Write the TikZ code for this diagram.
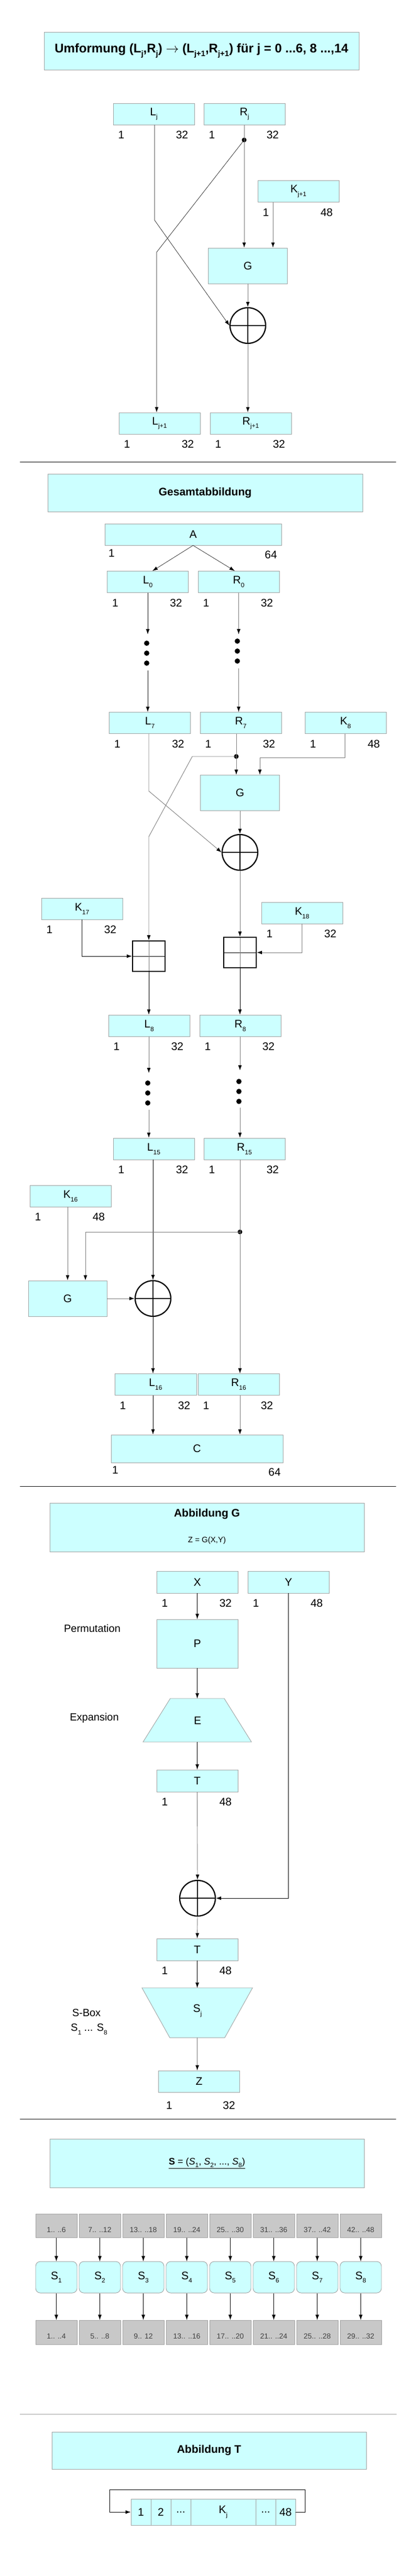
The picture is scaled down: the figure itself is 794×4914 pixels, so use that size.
\documentclass[tikz,border=0pt]{standalone}
\usepackage{fontspec}
\setmainfont{Liberation Sans}
\usetikzlibrary{arrows.meta,positioning,calc}
\definecolor{boxcyan}{HTML}{CCFFFF}
\definecolor{edgegray}{HTML}{A0A0A0}
\definecolor{linegray}{HTML}{7A7A7A}
\definecolor{graybox}{HTML}{C8C8C8}
\newcommand\fs[1]{\fontsize{#1}{#1}\selectfont}
\newcommand\sub[1]{\raisebox{-0.6ex}{\fs{12}#1}}
\newcommand\tsub[1]{\raisebox{-0.6ex}{\fs{15}#1}}
\newcommand\bits[3]{%
  \node[num] (#1a) at ([shift={(16,19)}]#1.south west) {#2};
  \node[num] (#1b) at ([shift={(-24,19)}]#1.south east) {#3};}
\newcommand\vdotsat[2]{%
  \fill (#1,#2) circle (5pt) (#1,#2+19) circle (5pt) (#1,#2+38) circle (5pt);}

\begin{document}
\begin{tikzpicture}[
        x=1pt, y=-1pt,
        > = Latex, % arrow head style
        reg/.style={rectangle, fill=boxcyan, draw=edgegray, line width=0.9pt,
          minimum width=155pt, minimum height=41pt, inner sep=0pt, font=\fs{21}},
        headbox/.style={reg, minimum width=601pt, minimum height=72pt, font=\bfseries\fs{21}},
        num/.style={font=\fs{21}, inner sep=0pt},
        side/.style={font=\fs{20}, inner sep=0pt},
        arr/.style={-{Latex[length=10pt,width=7pt,color=black]}, draw=linegray, line width=0.9pt},
        blk/.style={-{Latex[length=10pt,width=7pt]}, draw=black, line width=0.6pt},
        sep/.style={draw=black, line width=0.8pt},
        xor/.style={circle, draw, line width=2.3pt, minimum size=68pt, inner sep=0pt,
          path picture={\draw[line width=2.3pt]
            (path picture bounding box.north) -- (path picture bounding box.south)
            (path picture bounding box.west) -- (path picture bounding box.east);}},
        addbox/.style={rectangle, draw, line width=2.2pt, minimum width=62pt, minimum height=58pt,
          path picture={\draw[line width=0.6pt]
            (path picture bounding box.west) -- (path picture bounding box.east);
            \draw[linegray, line width=0.9pt]
            (path picture bounding box.north) -- (path picture bounding box.south);}},
        graycell/.style={rectangle, fill=graybox, draw=edgegray, line width=0.9pt,
          minimum width=79pt, minimum height=45pt, inner sep=0pt},
        glabel/.style={font=\fs{14}, text=black!75, yshift=-8pt},
        sbox/.style={reg, rounded corners=9pt, minimum width=79pt, minimum height=60pt},
        cell/.style={reg, minimum height=50pt, minimum width=38pt}
    ]
    \useasboundingbox (0,0) rectangle (794,4914);

    % ---------- Umformung ----------
    \node[headbox, font=\bfseries\fs{24}] (title1) at (384.5,97) {Umformung (L\tsub{j},R\tsub{j}) $\rightarrow$ (L\tsub{j+1},R\tsub{j+1}) für j = 0 ...6, 8 ...,14};
    \node[reg] (lj) at (293.5,217.5) {L\sub{j}};
    \node[reg] (rj) at (466.5,217.5) {R\sub{j}};
    \node[reg] (kj) at (569.5,365) {K\sub{j+1}};
    \node[reg, minimum width=151pt, minimum height=68pt] (g1) at (473,507) {G};
    \node[xor] (xor1) at (473,621) {};
    \node[reg] (lj1) at (304.5,807.5) {L\sub{j+1}};
    \node[reg] (rj1) at (478.5,807.5) {R\sub{j+1}};
    \bits{lj}{1}{32} \bits{rj}{1}{32} \bits{kj}{1}{48}
    \bits{lj1}{1}{32} \bits{rj1}{1}{32}
    \coordinate (d1) at (466,267);
    \fill (d1) circle (4.5pt);
    \draw[blk] (lj.south -| 295,0) -- (295,420) -- (xor1.west);
    \draw[arr] (rj.south -| d1) -- (d1 |- g1.north);
    \draw[blk] (d1) -- (299,481) -- (299,0 |- lj1.north);
    \draw[arr] (kj.south -| 521,0) -- (521,0 |- g1.north);
    \draw[arr] (g1.south) -- (xor1.north);
    \draw[arr] (xor1.south) -- (xor1.south |- rj1.north);
    \draw[sep] (38,881) -- (756,881);

    % ---------- Gesamtabbildung ----------
    \node[headbox] (title2) at (391.5,940) {Gesamtabbildung};
    \node[reg, minimum width=337pt] (a) at (368.5,1019.5) {A};
    \node[reg] (l0) at (282,1110) {L\sub{0}};
    \node[reg] (r0) at (455.5,1110) {R\sub{0}};
    \node[reg] (l7) at (286,1379) {L\sub{7}};
    \node[reg] (r7) at (459.5,1379) {R\sub{7}};
    \node[reg] (k8) at (659.5,1379) {K\sub{8}};
    \node[reg, minimum width=151pt, minimum height=68pt] (g2) at (458,1512.5) {G};
    \node[xor] (xor2) at (458,1626) {};
    \node[reg] (k17) at (156.5,1733.5) {K\sub{17}};
    \node[reg] (k18) at (576.5,1741.5) {K\sub{18}};
    \node[addbox] (add1) at (284,1824) {};
    \node[addbox] (add2) at (458,1817) {};
    \node[reg] (l8) at (284.5,1956.5) {L\sub{8}};
    \node[reg] (r8) at (458.5,1956.5) {R\sub{8}};
    \node[reg] (l15) at (293.5,2191.5) {L\sub{15}};
    \node[reg] (r15) at (466.5,2191.5) {R\sub{15}};
    \node[reg] (k16) at (134.5,2281.5) {K\sub{16}};
    \node[reg, minimum width=150pt, minimum height=68pt] (g3) at (129,2477) {G};
    \node[xor] (xor3) at (292,2477) {};
    \node[reg, minimum width=156pt] (l16) at (297,2641) {L\sub{16}};
    \node[reg] (r16) at (455.5,2641) {R\sub{16}};
    \node[reg, minimum width=328pt, minimum height=53pt] (c) at (376,2763.5) {C};
    \node[num] (aa) at (213,1055) {1};
    \node[num] (ab) at (517,1058) {64};
    \node[num] (ca) at (220,2804) {1};
    \node[num] (cb) at (524,2808) {64};
    \bits{l0}{1}{32} \bits{r0}{1}{32}
    \bits{l7}{1}{32} \bits{r7}{1}{32} \bits{k8}{1}{48}
    \bits{k17}{1}{32} \bits{k18}{1}{32}
    \bits{l8}{1}{32} \bits{r8}{1}{32}
    \bits{l15}{1}{32} \bits{r15}{1}{32} \bits{k16}{1}{48}
    \bits{l16}{1}{32} \bits{r16}{1}{32}
    % A to L0, R0
    \draw[blk] (a.south) -- (l0.north -| 291,0);
    \draw[blk] (a.south) -- (r0.north -| 448,0);
    % rounds 1..7
    \draw[blk] (l0.south) -- ++(0,79);
    \vdotsat{280}{1227}
    \draw[blk] (l0.south |- 0,1279) -- (l0.south |- l7.north);
    \draw[arr] (r0.south) -- ++(0,79);
    \vdotsat{453}{1223}
    \draw[arr] (r0.south |- 0,1275) -- (r0.south |- r7.north);
    % round 8
    \coordinate (d2) at (451,1443);
    \fill (d2) circle (4.5pt);
    \draw[arr] (r7.south -| d2) -- (d2 |- g2.north);
    \draw[arr] (k8.south -| 658,0) -- (658,1445) -- (496,1445) -- (496,0 |- g2.north);
    \draw[arr] (d2) -- (367,1443) -- (284,1596) -- (284,0 |- add1.north);
    \draw[arr] (l7.south -| 284,0) -- (284,1509) -- (xor2.west);
    \draw[arr] (g2.south) -- (xor2.north);
    \draw[arr] (xor2.south) -- (add2.north);
    \draw[blk] (k17.south) |- (add1.west);
    \draw[arr] (k18.south) |- (add2.east);
    \draw[blk] (add1.south) -- (add1.south |- l8.north);
    \draw[blk] (add2.south) -- (add2.south |- r8.north);
    % rounds 9..15
    \draw[arr] (l8.south -| 284,0) -- (284,2047);
    \vdotsat{282}{2066}
    \draw[arr] (284,2117) -- (284,0 |- l15.north);
    \draw[arr] (r8.south -| 458,0) -- (458,2042);
    \vdotsat{456}{2063}
    \draw[arr] (458,2113) -- (458,0 |- r15.north);
    % round 16
    \coordinate (d3) at (458,2350);
    \fill (d3) circle (4.5pt);
    \draw[blk] (l15.south -| 292,0) -- (xor3.north);
    \draw[arr] (r15.south -| d3) -- (d3 |- r16.north);
    \draw[arr] (d3) -- (163,2350) -- (163,0 |- g3.north);
    \draw[arr] (k16.south -| 129,0) -- (129,0 |- g3.north);
    \draw[arr] (g3.east) -- (xor3.west);
    \draw[blk] (xor3.south) -- (xor3.south |- l16.north);
    \draw[blk] (l16.south -| 292,0) -- (292,0 |- c.north);
    \draw[arr] (r16.south -| 458,0) -- (458,0 |- c.north);
    \draw[sep] (38,2835) -- (756,2835);

    % ---------- Abbildung G ----------
    \node[headbox, minimum width=600pt, minimum height=93pt] (title3) at (395,2913.5) {};
    \node[font=\bfseries\fs{21}] (t3a) at (395,2888) {Abbildung G};
    \node[font=\fs{15}] (t3b) at (395,2939) {Z = G(X,Y)};
    \node[reg, minimum height=42pt] (x) at (376.5,3018) {X};
    \node[reg, minimum height=42pt] (y) at (550.5,3018) {Y};
    \node[reg, minimum height=93pt] (p) at (376.5,3135.5) {P};
    \filldraw[fill=boxcyan, draw=edgegray, line width=0.9pt]
      (325,3240) -- (428,3240) -- (480,3323) -- (273,3323) -- cycle;
    \node[font=\fs{21}] (e) at (377,3282) {E};
    \node[reg, minimum height=42pt] (t1) at (376.5,3397) {T};
    \node[xor] (xor4) at (377,3621) {};
    \node[reg, minimum height=42pt] (t2) at (376.5,3719) {T};
    \filldraw[fill=boxcyan, draw=edgegray, line width=0.9pt]
      (271,3792) -- (482,3792) -- (429,3887) -- (324,3887) -- cycle;
    \node[font=\fs{21}] (sj) at (377,3836) {S\sub{j}};
    \node[reg, minimum height=41pt] (z) at (380,3970.5) {Z};
    \node[side] (perm) at (176,3106) {Permutation};
    \node[side] (expa) at (180,3277) {Expansion};
    \node[side] (sbx) at (165,3840) {S-Box};
    \node[side] (sbn) at (170,3871) {S\sub{1} ... S\sub{8}};
    \bits{x}{1}{32} \bits{y}{1}{48} \bits{t1}{1}{48} \bits{t2}{1}{48}
    \node[num] (za) at (323,4016) {1};
    \node[num] (zb) at (437,4016) {32};
    \coordinate (etop) at (376.5,3240);
    \coordinate (ebot) at (376.5,3323);
    \coordinate (stop) at (376.5,3792);
    \coordinate (sbot) at (376.5,3887);
    \draw[blk] (x.south) -- (p.north);
    \draw[blk] (p.south) -- (etop);
    \draw[blk] (ebot) -- (t1.north);
    \draw[arr] (t1.south) -- (xor4.north);
    \draw[blk] (y.south) |- (xor4.east);
    \draw[arr] (xor4.south) -- (t2.north);
    \draw[blk] (t2.south) -- (stop);
    \draw[arr] (sbot) -- (sbot |- z.north);
    \draw[sep] (38,4042) -- (756,4042);

    % ---------- S-Boxen ----------
    \node[headbox, minimum width=600pt, minimum height=93pt, font=\fs{18}] (title4) at (395,4126.5)
      {\underline{\textbf{S} = (\textit{S}\sub{1}, \textit{S}\sub{2}, ..., \textit{S}\sub{8})}};
    \foreach \i/\a/\b in {1/1.. ..6/1.. ..4, 2/7.. ..12/5.. ..8, 3/13.. ..18/9.. 12,
        4/19.. ..24/13.. ..16, 5/25.. ..30/17.. ..20, 6/31.. ..36/21.. ..24,
        7/37.. ..42/25.. ..28, 8/42.. ..48/29.. ..32}{
      \node[graycell, label={[glabel]center:\a}] (in\i) at ({107.5+83*(\i-1)},4245.5) {};
      \node[sbox] (s\i) at ({107.5+83*(\i-1)},4344) {S\sub{\i}};
      \node[graycell, minimum height=46pt, label={[glabel]center:\b}] (out\i) at ({107.5+83*(\i-1)},4449) {};
      \draw[blk] (in\i) -- (s\i);
      \draw[blk] (s\i) -- (out\i);
    }
    \draw[draw=edgegray, line width=0.9pt] (38,4605) -- (757,4605);

    % ---------- Abbildung T ----------
    \node[headbox, minimum width=600pt, minimum height=71pt] (title5) at (399,4674.5) {Abbildung T};
    \node[cell] (c1) at (269,4792) {1};
    \node[cell] (c2) at (307,4792) {2};
    \node[cell] (c3) at (345,4792) {...};
    \node[cell, minimum width=124pt] (c4) at (426,4792) {K\sub{j}};
    \node[cell] (c5) at (507,4792) {...};
    \node[cell] (c6) at (545,4792) {48};
    \draw[blk] (c6.east) -- (582,4792) -- (582,4749) -- (209,4749) -- (209,4792) -- (c1.west);
\end{tikzpicture}
\end{document}
